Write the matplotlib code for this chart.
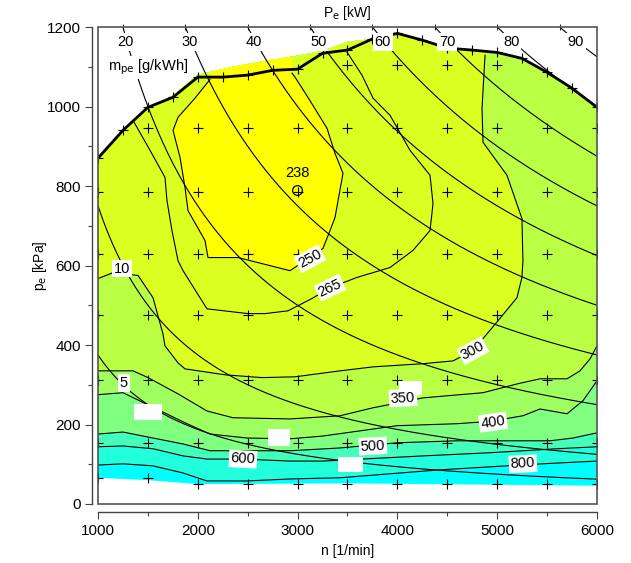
import matplotlib.pyplot as plt
import numpy as np
from matplotlib.patches import Polygon, Rectangle

plt.rcParams['font.family'] = ['Liberation Sans', 'DejaVu Sans']

# ---- full load curve (n [1/min], pe [kPa]) ----
full_load_n = [1000, 1250, 1500, 1750, 2000, 2250, 2500, 2750, 3000, 3250, 3500,
               3750, 4000, 4250, 4500, 4750, 5000, 5250, 5500, 5750, 6000]
full_load_pe = [870, 940, 998, 1023, 1074, 1074, 1079, 1091, 1094, 1134, 1142,
                1170, 1184, 1167, 1147, 1142, 1136, 1121, 1086, 1046, 998]

# upper / lower edge of the shaded map
map_top_n = [1750, 2000, 2350, 2700, 3000, 3250, 3500]
map_top_pe = [1028, 1080, 1100, 1116, 1128, 1140, 1163]
map_bottom_n = [1000, 1500, 2000, 3500, 6000]
map_bottom_pe = [66, 60, 50, 52, 46]

# ---- bsfc iso lines [g/kWh] ----
bsfc_250_n = [2122, 1972, 1802, 1752, 1822, 1872, 1902, 2072, 2102, 2403, 2924,
              3254, 3325, 3375, 3455, 3375, 3295, 3104, 2974, 2944]
bsfc_250_pe = [1068, 1021, 973, 940, 872, 796, 738, 663, 620, 620, 587,
               643, 688, 721, 832, 882, 945, 1023, 1074, 1084]

bsfc_265_n = [1351, 1521, 1671, 1691, 1741, 1802, 1852, 2092, 2503, 2673, 2904, 3144,
              3325, 3595, 3926, 4156, 4327, 4357, 4327, 4126, 3926, 3756, 3645, 3495]
bsfc_265_pe = [965, 890, 822, 764, 688, 612, 587, 491, 479, 479, 486, 517,
               544, 570, 595, 638, 688, 756, 827, 890, 978, 1021, 1079, 1137]

bsfc_300_n = [1000, 1150, 1401, 1551, 1651, 1671, 1802, 1872, 2273, 2643, 2974, 3425,
              3755, 4256, 4557, 4757, 5008, 5198, 5248, 5258, 5248, 5098, 4858, 4848, 4878]
bsfc_300_pe = [567, 582, 575, 519, 428, 398, 355, 340, 325, 318, 320, 335,
               345, 353, 360, 386, 461, 519, 570, 612, 718, 827, 910, 995, 1129]

bsfc_350_n = [1000, 1351, 1501, 1802, 2092, 2353, 2924, 3425, 3755, 4256, 4858,
              5198, 5429, 5700, 5830, 5930, 6000]
bsfc_350_pe = [335, 335, 318, 277, 234, 217, 214, 222, 242, 267, 280,
               302, 315, 315, 335, 365, 398]

bsfc_400_n = [1000, 1250, 1521, 1892, 2122, 2493, 2924, 3254, 3996, 4597, 4930,
              5258, 5429, 5700, 5860, 6000]
bsfc_400_pe = [275, 280, 247, 202, 176, 166, 164, 171, 197, 202, 208,
               222, 239, 227, 260, 310]

bsfc_500_n = [1000, 1250, 1551, 1852, 2122, 2924, 3425, 3996, 4597, 5098, 5529, 5760, 6000]
bsfc_500_pe = [176, 181, 166, 151, 134, 134, 141, 154, 159, 159, 159, 166, 179]

bsfc_600_n = [1000, 1250, 1551, 1852, 2092, 2453, 2924, 3254, 4256, 4928, 5599, 6000]
bsfc_600_pe = [144, 146, 139, 121, 113, 113, 108, 108, 121, 129, 139, 144]

bsfc_800_n = [1000, 1250, 1551, 1852, 2092, 2493, 2924, 3425, 3926, 4427, 4898, 5228, 5599, 6000]
bsfc_800_pe = [98, 101, 96, 78, 58, 58, 63, 66, 76, 86, 93, 98, 103, 108]

best_point = (2994, 789)

# band colours, from highest consumption to lowest
band_colors = ['#00ffff', '#22ffdd', '#44ffbb', '#80ff80', '#a0ff60',
               '#bbff44', '#dcff22', '#dcff22', '#ffff00']

# label boxes whose text did not come out in the original (n, pe, dn, dpe)
blank_label_boxes = [(1500, 232, 280, 40), (2810, 167, 220, 42), (3530, 100, 250, 38),
                     (4130, 292, 230, 36)]

# ---- iso power lines ----
displacement_m3 = 1.6e-3
power_levels = [5, 10, 20, 30, 40, 50, 60, 70, 80, 90]
power_top_labels = [20, 30, 40, 50, 60, 70, 80, 90]

# measuring points
grid_n = [1000, 1500, 2000, 2500, 3000, 3500, 4000, 4500, 5000, 5500, 6000]
grid_pe = [1104, 945, 786, 630, 476, 313, 154]
grid_low_pe = [66, 66, 50, 50, 50, 50, 50, 50, 50, 50, 50]


def pe_of_power(p, n):
    return p * 120.0 / (displacement_m3 * n)


fig = plt.figure(figsize=(6.31, 5.63), dpi=100)
ax = fig.add_axes([0.1553, 0.1048, 0.7908, 0.8472])
ax.set_xlim(1000, 6000)
ax.set_ylim(0, 1200)

# region of the map
fl_n = np.array(full_load_n)
fl_pe = np.array(full_load_pe)
hull = list(zip(map_bottom_n, map_bottom_pe))
hull += [(n, p) for n, p in zip(fl_n[::-1], fl_pe[::-1]) if n > map_top_n[-1]]
hull += list(zip(map_top_n[::-1], map_top_pe[::-1]))
hull += [(n, p) for n, p in zip(fl_n[::-1], fl_pe[::-1]) if n < map_top_n[0]]
hull_patch = Polygon(hull, closed=True, facecolor=band_colors[0], edgecolor='none', zorder=1)
ax.add_patch(hull_patch)

top = 1300
areas = [
    (bsfc_800_n + [6000, 1000], bsfc_800_pe + [top, top]),
    (bsfc_600_n + [6000, 1000], bsfc_600_pe + [top, top]),
    (bsfc_500_n + [6000, 1000], bsfc_500_pe + [top, top]),
    (bsfc_400_n + [6000, 1000], bsfc_400_pe + [top, top]),
    (bsfc_350_n + [6000, 1000], bsfc_350_pe + [top, top]),
    (bsfc_300_n + [bsfc_300_n[-1], 1000], bsfc_300_pe + [top, top]),
    (bsfc_265_n + [bsfc_265_n[-1], bsfc_265_n[0]], bsfc_265_pe + [top, top]),
    (bsfc_250_n + [2960, 1900], bsfc_250_pe + [top, top]),
]
for (xs, ys), col in zip(areas, band_colors[1:]):
    patches = ax.fill(xs, ys, color=col, lw=0, zorder=1)
    for p in patches:
        p.set_clip_path(hull_patch)

for xs, ys in [(bsfc_250_n, bsfc_250_pe), (bsfc_265_n, bsfc_265_pe),
               (bsfc_300_n, bsfc_300_pe), (bsfc_350_n, bsfc_350_pe),
               (bsfc_400_n, bsfc_400_pe), (bsfc_500_n, bsfc_500_pe),
               (bsfc_600_n, bsfc_600_pe), (bsfc_800_n, bsfc_800_pe)]:
    ax.plot(xs, ys, color='k', lw=0.8, zorder=3)

# iso power lines
n_line = np.linspace(1000, 6000, 400)
for p in power_levels:
    ax.plot(n_line, pe_of_power(p, n_line), color='k', lw=0.8, zorder=3)

# measuring grid
gn, gp = np.meshgrid(grid_n, grid_pe)
gn = gn.ravel()
gp = gp.ravel()
keep = gp < np.interp(gn, fl_n, fl_pe) - 15
ax.plot(gn[keep], gp[keep], '+', color='k', ms=6.5, mew=0.8, zorder=4)
ax.plot(grid_n, grid_low_pe, '+', color='k', ms=6.5, mew=0.8, zorder=4)

# full load
ax.plot(full_load_n, full_load_pe, color='k', lw=2, marker='+', ms=6.5, mew=0.8, zorder=5)

# best point
ax.plot(*best_point, 'o', mfc='none', mec='k', ms=7, mew=0.9, zorder=5)
ax.text(best_point[0], best_point[1] + 45, '238', ha='center', va='center', fontsize=10.5, zorder=6)

for x, y, w, h in blank_label_boxes:
    ax.add_patch(Rectangle((x - w / 2, y - h / 2), w, h, fc='white', ec='none', zorder=6))

box = dict(boxstyle='square,pad=0.12', fc='white', ec='none')
contour_labels = [('250', 3124, 617, 28), ('265', 3325, 544, 25), ('300', 4757, 386, 28),
                  ('350', 4056, 267, 3), ('400', 4958, 206, 8), ('500', 3755, 146, 3),
                  ('600', 2453, 113, -3), ('800', 5258, 101, 3)]
for txt, x, y, rot in contour_labels:
    ax.text(x, y, txt, ha='center', va='center', rotation=rot, fontsize=10.5,
            bbox=box, zorder=7)

for p in power_top_labels:
    n_lab = 120.0 * p / (displacement_m3 * 1162) - 20
    ax.text(n_lab, 1162, str(p), ha='center', va='center', fontsize=10.5, bbox=box, zorder=6)
ax.text(1240, 592, '10', ha='center', va='center', fontsize=10.5, bbox=box, zorder=6)
ax.text(1260, 305, '5', ha='center', va='center', fontsize=10.5, bbox=box, zorder=6)

ax.text(1100, 1098, r'm$_{\rm pe}$ [g/kWh]', ha='left', va='center', fontsize=10.5,
        bbox=dict(boxstyle='square,pad=0.1', fc='white', ec='none'), zorder=6)

# ---- axes styling ----
for s in ['top', 'right']:
    ax.spines[s].set_visible(False)
ax.spines['left'].set_position(('outward', 4))
ax.spines['bottom'].set_position(('outward', 6))
for s in ['left', 'bottom']:
    ax.spines[s].set_color('#444444')
    ax.spines[s].set_linewidth(1.0)
ax.add_patch(Rectangle((0, 0), 1, 1, transform=ax.transAxes, fill=False,
                       ec='#555555', lw=1.2, zorder=8, clip_on=False))

ax.set_xticks(range(1000, 6001, 1000))
ax.set_xticks(range(1500, 6000, 1000), minor=True)
ax.set_yticks(range(0, 1201, 200))
ax.set_yticks(range(100, 1200, 200), minor=True)
ax.tick_params(which='major', length=5, width=0.8, labelsize=11, color='#444444')
ax.tick_params(which='minor', length=3, width=0.8, color='#444444')

ax.set_xlabel('n [1/min]', fontsize=10)
ax.set_ylabel(r'p$_{\rm e}$ [kPa]', fontsize=10, labelpad=-2)

secax = ax.secondary_xaxis('top')
secax.set_xticks([120.0 * p / (displacement_m3 * 1200) for p in power_top_labels])
secax.set_xticklabels([])
secax.tick_params(direction='inout', length=4, width=0.6)
secax.spines['top'].set_visible(False)
secax.set_xlabel(r'P$_{\rm e}$ [kW]', fontsize=10, labelpad=2)

fig.savefig('out.png', dpi=100)
